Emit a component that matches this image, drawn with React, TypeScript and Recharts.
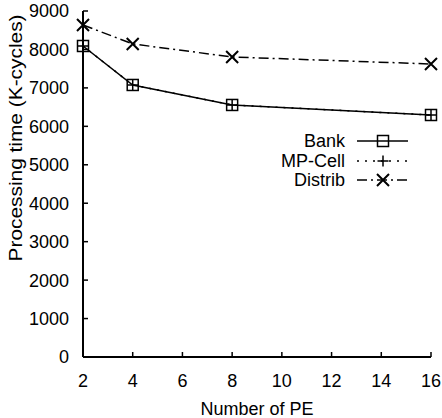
import React from 'react';
import { LineChart, Line, XAxis, YAxis, Legend } from 'recharts';

const peCounts = [2, 4, 8, 16];
const bankTimes = [8090, 7076, 6556, 6295];
const mpCellTimes = [8090, 7076, 6556, 6295];
const distribTimes = [8637, 8143, 7804, 7622];
const xTicks = [2, 4, 6, 8, 10, 12, 14, 16];
const yTicks = [0, 1000, 2000, 3000, 4000, 5000, 6000, 7000, 8000, 9000];
const seriesNames = ['Bank', 'MP-Cell', 'Distrib'];

const data = peCounts.map((pe, i) => ({
  pe,
  bank: bankTimes[i],
  mp: mpCellTimes[i],
  distrib: distribTimes[i],
}));

const FONT = '"Liberation Sans", Arial, Helvetica, sans-serif';
const FS = 18;
const TICK = 5;

const SquareDot = (p: any) => {
  const { cx, cy, index } = p;
  if (cx == null || cy == null) return <g key={`s${index}`} />;
  return <rect key={`s${index}`} x={cx - 5.5} y={cy - 5.5} width={11} height={11} fill="none" stroke="#000" strokeWidth={1.5} />;
};
const PlusDot = (p: any) => {
  const { cx, cy, index } = p;
  if (cx == null || cy == null) return <g key={`p${index}`} />;
  return <path key={`p${index}`} d={`M${cx - 5.5},${cy}H${cx + 5.5}M${cx},${cy - 5.5}V${cy + 5.5}`} stroke="#000" strokeWidth={1.5} fill="none" />;
};
const CrossDot = (p: any) => {
  const { cx, cy, index } = p;
  if (cx == null || cy == null) return <g key={`c${index}`} />;
  return <path key={`c${index}`} d={`M${cx - 6},${cy - 6}L${cx + 6},${cy + 6}M${cx + 6},${cy - 6}L${cx - 6},${cy + 6}`} stroke="#000" strokeWidth={2} fill="none" />;
};

const BottomTick = (p: any) => {
  const { x, y, payload } = p;
  return (
    <g>
      <line x1={x} y1={y} x2={x} y2={y - TICK} stroke="#000" strokeWidth={1.5} />
      <text x={x} y={y + 30} textAnchor="middle" fontFamily={FONT} fontSize={FS} fill="#000">{payload.value}</text>
    </g>
  );
};
const TopTick = (p: any) => {
  const { x, y } = p;
  return <line x1={x} y1={y} x2={x} y2={y + TICK} stroke="#000" strokeWidth={1.5} />;
};
const LeftTick = (p: any) => {
  const { x, y, payload } = p;
  return (
    <g>
      <line x1={x} y1={y} x2={x + TICK} y2={y} stroke="#000" strokeWidth={1.5} />
      <text x={x - 14} y={y} dy="0.36em" textAnchor="end" fontFamily={FONT} fontSize={FS} fill="#000">{payload.value}</text>
    </g>
  );
};
const RightTick = (p: any) => {
  const { x, y } = p;
  return <line x1={x} y1={y} x2={x - TICK} y2={y} stroke="#000" strokeWidth={1.5} />;
};

const YLabel = (p: any) => {
  const vb = p.viewBox || { x: 0, y: 11, width: 83, height: 346 };
  const cx = vb.x + 22;
  const cy = vb.y + 127;
  return (
    <text transform={`translate(${cx},${cy}) rotate(-90)`} textAnchor="middle" fontFamily={FONT} fontSize={FS} fill="#000" textLength={247} lengthAdjust="spacingAndGlyphs">
      Processing time (K-cycles)
    </text>
  );
};
const XLabel = (p: any) => {
  const vb = p.viewBox || { x: 83, y: 357, width: 348, height: 61 };
  return (
    <text x={vb.x + vb.width / 2} y={vb.y + 58} textAnchor="middle" fontFamily={FONT} fontSize={FS} fill="#000" textLength={113} lengthAdjust="spacingAndGlyphs">
      Number of PE
    </text>
  );
};

const LegendBox = () => {
  const rows = [
    { y: 11, dash: undefined, Marker: SquareDot },
    { y: 31, dash: '2 6', Marker: PlusDot },
    { y: 50, dash: '10 4 2 4', Marker: CrossDot },
  ];
  return (
    <svg width={160} height={64} style={{ display: 'block' }}>
      {rows.map((r, i) => (
        <g key={i}>
          <text x={65} y={r.y} dy="0.36em" textAnchor="end" fontFamily={FONT} fontSize={FS} fill="#000">{seriesNames[i]}</text>
          <line x1={77} y1={r.y} x2={128} y2={r.y} stroke="#000" strokeWidth={1.5} strokeDasharray={r.dash} />
          <r.Marker cx={103} cy={r.y} index={i} />
        </g>
      ))}
    </svg>
  );
};

export default function App() {
  return (
    <div style={{ position: 'absolute', left: 0, top: 0 }}>
      <LineChart width={442} height={418} data={data} margin={{ top: 11, right: 11, bottom: 0, left: 0 }}>
        <XAxis dataKey="pe" type="number" domain={[2, 16]} ticks={xTicks} interval={0} height={61} tickSize={0} tickMargin={0}
          axisLine={{ stroke: '#000', strokeWidth: 2 }} tickLine={false} tick={<BottomTick />} label={<XLabel />} />
        <XAxis xAxisId="top" orientation="top" dataKey="pe" type="number" domain={[2, 16]} ticks={xTicks} interval={0} height={0} tickSize={0} tickMargin={0}
          axisLine={{ stroke: '#000', strokeWidth: 1.5 }} tickLine={false} tick={<TopTick />} />
        <YAxis type="number" domain={[0, 9000]} ticks={yTicks} interval={0} width={83} tickSize={0} tickMargin={0}
          axisLine={{ stroke: '#000', strokeWidth: 2 }} tickLine={false} tick={<LeftTick />} label={<YLabel />} />
        <YAxis yAxisId="right" orientation="right" type="number" domain={[0, 9000]} ticks={yTicks} interval={0} width={0} tickSize={0} tickMargin={0}
          axisLine={{ stroke: '#000', strokeWidth: 2 }} tickLine={false} tick={<RightTick />} />
        <Legend layout="vertical" align="center" verticalAlign="middle"
          wrapperStyle={{ position: 'absolute', left: 280, top: 130, width: 160, height: 64 }}
          content={() => <LegendBox />} />
        <Line dataKey="mp" stroke="#000" strokeWidth={1.5} strokeDasharray="2 6" dot={PlusDot} isAnimationActive={false} />
        <Line dataKey="bank" stroke="#000" strokeWidth={1.5} dot={SquareDot} isAnimationActive={false} />
        <Line dataKey="distrib" stroke="#000" strokeWidth={1.5} strokeDasharray="10 4 2 4" dot={CrossDot} isAnimationActive={false} />
      </LineChart>
    </div>
  );
}
